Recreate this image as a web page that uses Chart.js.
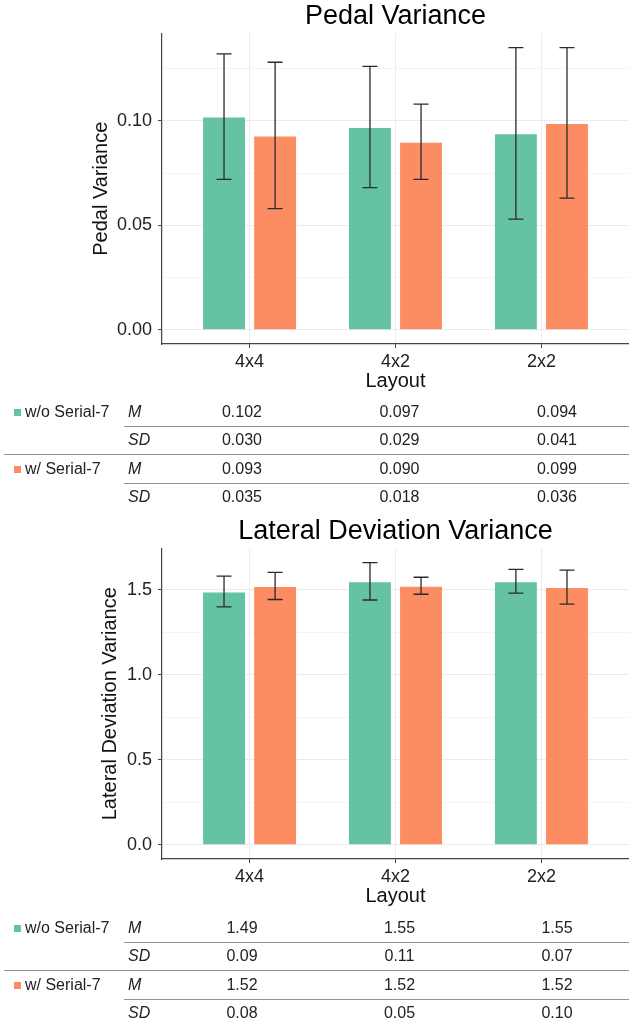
<!DOCTYPE html>
<html>
<head>
<meta charset="utf-8">
<script src="https://cdn.jsdelivr.net/npm/chart.js@4"></script>
<style>
body{margin:0;background:#fff;width:629px;height:1025px;position:relative;overflow:hidden;font-family:"Liberation Sans",Arial,sans-serif;}
canvas{position:absolute;left:0;}
.tbl{position:absolute;left:0;width:629px;height:110px;font-size:16px;color:#222;}
.tbl div{position:absolute;white-space:nowrap;line-height:20px;}
.tbl .sw{width:7px;height:7px;}
.tbl .rule{height:0;border-top:1.5px solid #939393;}
.tbl .val{width:80px;text-align:center;}
.tbl .stat{font-style:italic;}
</style>
</head>
<body>
<canvas id="pedal" width="629" height="400" style="top:0"></canvas>
<div class="tbl" id="pedal_tbl" style="top:398px"></div>
<canvas id="lateral" width="629" height="400" style="top:515px"></canvas>
<div class="tbl" id="lateral_tbl" style="top:914px"></div>
<script>
// data
const layouts = ['4x4', '4x2', '2x2'];
const series = ['w/o Serial-7', 'w/ Serial-7'];
const colors = ['#66C2A5', '#FC8D62'];

const pedal_m_without = [0.102, 0.097, 0.094];
const pedal_sd_without = [0.030, 0.029, 0.041];
const pedal_m_with = [0.093, 0.090, 0.099];
const pedal_sd_with = [0.035, 0.018, 0.036];
const pedal_yticks = [0, 0.025, 0.05, 0.075, 0.10, 0.125];
const pedal_ylabels = ['0.00', '', '0.05', '', '0.10', ''];

const lat_m_without = [1.49, 1.55, 1.55];
const lat_sd_without = [0.09, 0.11, 0.07];
const lat_m_with = [1.523, 1.524, 1.516];
const lat_sd_with = [0.08, 0.05, 0.10];
const lat_yticks = [0, 0.25, 0.5, 0.75, 1.0, 1.25, 1.5];
const lat_ylabels = ['0.0', '', '0.5', '', '1.0', '', '1.5'];

// error bars drawn from the y scale
const errorBars = {
  id: 'errorBars',
  afterDatasetsDraw(chart) {
    const ctx = chart.ctx;
    const y = chart.scales.y;
    ctx.save();
    ctx.strokeStyle = '#2b2b2b';
    ctx.lineWidth = 1.3;
    chart.data.datasets.forEach((ds, i) => {
      chart.getDatasetMeta(i).data.forEach((bar, j) => {
        const m = ds.data[j].y, sd = ds.sd[j];
        const top = y.getPixelForValue(m + sd), bot = y.getPixelForValue(m - sd);
        ctx.beginPath();
        ctx.moveTo(bar.x, top); ctx.lineTo(bar.x, bot);
        ctx.moveTo(bar.x - 7.5, top); ctx.lineTo(bar.x + 7.5, top);
        ctx.moveTo(bar.x - 7.5, bot); ctx.lineTo(bar.x + 7.5, bot);
        ctx.stroke();
      });
    });
    ctx.restore();
  }
};

function makeChart(id, title, ytitle, means, sds, yticks, ylabels, ytitleX) {
  let top = 0;
  means.forEach((m, i) => m.forEach((v, j) => { top = Math.max(top, v + sds[i][j]); }));
  const pad = top * 0.05;

  return new Chart(id, {
    type: 'bar',
    data: {
      datasets: series.map((s, i) => ({
        label: s,
        data: means[i].map((v, j) => ({x: j + 1, y: v})),
        sd: sds[i],
        backgroundColor: colors[i],
        borderColor: 'rgba(255,255,255,0.3)',
        borderWidth: 1
      }))
    },
    options: {
      responsive: false,
      animation: false,
      categoryPercentage: 0.7,
      barPercentage: 0.86,
      layout: {padding: 0},
      plugins: {
        legend: {display: false},
        tooltip: {enabled: false},
        title: {
          display: true, text: title, fullSize: false,
          font: {size: 27, weight: 'normal'}, color: '#000',
          padding: {top: 0.5, bottom: 0.6}
        }
      },
      scales: {
        x: {
          type: 'linear', min: 0.4, max: 3.6, offset: false,
          afterBuildTicks: s => { s.ticks = layouts.map((l, i) => ({value: i + 1})); },
          afterFit: s => { s.height = 56; },
          ticks: {callback: v => layouts[v - 1], font: {size: 18}, color: '#222', padding: 3, autoSkip: false, maxRotation: 0},
          grid: {offset: false, color: '#ebebeb', tickColor: '#444', tickLength: 4},
          border: {color: '#444', width: 1.2},
          title: {display: true, text: 'Layout', font: {size: 20}, color: '#111', padding: {top: 0, bottom: 7}}
        },
        y: {
          min: -pad, max: top + pad,
          afterBuildTicks: s => { s.ticks = yticks.map(v => ({value: v})); },
          afterFit: s => { s.width = 162; },
          ticks: {callback: (v, i) => ylabels[i], font: {size: 18}, color: '#222', padding: 6, autoSkip: false},
          grid: {
            color: c => ylabels[c.index] ? '#ebebeb' : '#f4f4f4',
            tickColor: c => ylabels[c.index] ? '#444' : 'rgba(0,0,0,0)',
            tickLength: 4
          },
          border: {color: '#444', width: 1.2},
          title: {display: true, text: ytitle, font: {size: 20}, color: '#111', padding: {top: ytitleX - 12, bottom: 0}}
        }
      }
    },
    plugins: [errorBars]
  });
}

function buildTable(id, means, sds, digits) {
  const el = document.getElementById(id);
  const rows = [14, 42, 71, 99];
  const cols = [242, 399.5, 557];
  let html = '';
  series.forEach((s, i) => {
    const rm = rows[i * 2], rs = rows[i * 2 + 1];
    html += `<div class="sw" style="left:14px;top:${rm - 3.5}px;background:${colors[i]}"></div>`;
    html += `<div style="left:25px;top:${rm - 10}px">${s}</div>`;
    html += `<div class="stat" style="left:128px;top:${rm - 10}px">M</div>`;
    html += `<div class="stat" style="left:128px;top:${rs - 10}px">SD</div>`;
    cols.forEach((c, j) => {
      html += `<div class="val" style="left:${c - 40}px;top:${rm - 10}px">${means[i][j].toFixed(digits)}</div>`;
      html += `<div class="val" style="left:${c - 40}px;top:${rs - 10}px">${sds[i][j].toFixed(digits)}</div>`;
    });
    html += `<div class="rule" style="left:124px;width:505px;top:${(rm + rs) / 2}px"></div>`;
  });
  html += `<div class="rule" style="left:4px;width:625px;top:56px"></div>`;
  el.innerHTML = html;
}

makeChart('pedal', 'Pedal Variance', 'Pedal Variance',
  [pedal_m_without, pedal_m_with], [pedal_sd_without, pedal_sd_with],
  pedal_yticks, pedal_ylabels, 101);
makeChart('lateral', 'Lateral Deviation Variance', 'Lateral Deviation Variance',
  [lat_m_without, lat_m_with], [lat_sd_without, lat_sd_with],
  lat_yticks, lat_ylabels, 110);

buildTable('pedal_tbl', [pedal_m_without, pedal_m_with], [pedal_sd_without, pedal_sd_with], 3);
buildTable('lateral_tbl', [lat_m_without, lat_m_with], [lat_sd_without, lat_sd_with], 2);
</script>
</body>
</html>
